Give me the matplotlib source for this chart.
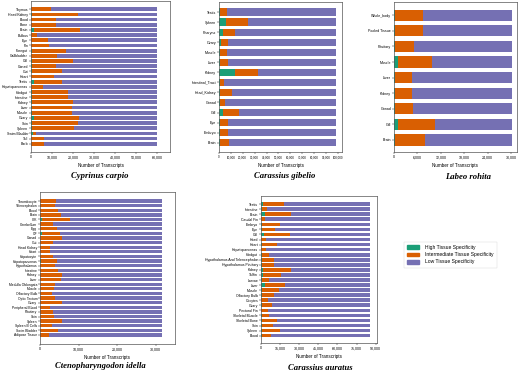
import matplotlib
matplotlib.use("Agg")
import matplotlib.pyplot as plt
from matplotlib.ticker import FuncFormatter, MultipleLocator
from matplotlib.patches import Patch

W, H = 520, 375
GREEN, ORANGE, PURPLE = "#1b9e77", "#d95f02", "#7570b3"

# ---------- Cyprinus carpio ----------
cc_tissues = ["Thymus", "Head Kidney", "Blood", "Bone", "Brain", "Bulbus", "Eye", "Fin",
              "Foregut", "Gallbladder", "Gill", "Gonad", "Gut", "Heart", "Testis",
              "Hepatopancreas", "Hindgut", "Intestine", "Kidney", "Liver", "Muscle",
              "Ovary", "Skin", "Spleen", "Swim Bladder", "Tail", "Barb"]
cc_high = [200, 300, 200, 200, 1500, 200, 200, 200, 300, 200, 300, 300, 300, 200, 1200,
           200, 300, 300, 300, 300, 300, 1500, 400, 300, 800, 200, 200]
cc_mid = [9200, 22000, 11600, 11600, 21900, 2800, 8100, 8600, 16300, 12100, 19900, 11600,
          14300, 10900, 13800, 5700, 17200, 17100, 19600, 19100, 19400, 21300, 22200,
          20400, 1500, 6200, 6000]
cc_total = 60000

# ---------- Carassius gibelio ----------
cg_tissues = ["Testis", "Spleen", "Pharynx", "Ovary", "Muscle", "Liver", "Kidney",
              "Intestinal_Tract", "Head_Kidney", "Gonad", "Gill", "Eye", "Embryo", "Brain"]
cg_high = [1000, 6200, 3600, 1400, 1000, 1200, 13200, 800, 1200, 800, 3600, 1000, 1200, 1000]
cg_mid = [5700, 18200, 10100, 6200, 5700, 6400, 19600, 3400, 9700, 4500, 13200, 6600, 6400, 7100]
cg_total = 98500

# ---------- Labeo rohita ----------
lr_tissues = ["Whole_body", "Pooled Tissue", "Pituitary", "Muscle", "Liver", "Kidney",
              "Gonad", "Gill", "Brain"]
lr_high = [250, 200, 150, 1100, 150, 150, 150, 900, 200]
lr_mid = [7050, 7200, 4850, 8700, 4350, 4550, 4650, 9700, 7800]
lr_total = 30300

# ---------- Ctenopharyngodon idella ----------
ci_tissues = ["Thrombocyte", "Telencephalon", "Blood", "Brain", "CIK", "Cerebellum", "Egg",
              "GF", "Gonad", "Gut", "Head Kidney", "Heart", "Hepatocyte", "Hepatopancreas",
              "Hypothalamus", "Intestine", "Kidney", "Liver", "Medulla Oblongata", "Muscle",
              "Olfactory Bulb", "Optic Tectum", "Ovary", "Peripheral Blood", "Pituitary",
              "Skin", "Spleen", "Spleen B Cells", "Swim Bladder", "Adipose Tissue"]
ci_high = [100, 100, 100, 100, 600, 100, 100, 400, 100, 100, 100, 100, 100, 150,
           100, 100, 100, 100, 100, 100, 100, 100, 100, 100, 100, 100, 100, 100, 100, 100]
ci_mid = [4000, 3900, 4500, 5300, 7200, 3300, 4400, 4900, 5600, 3300, 2500, 2500, 3300,
          4150, 3900, 4500, 5500, 5300, 3800, 3500, 3100, 3900, 5500, 2500, 3200, 3500,
          5700, 2900, 4500, 2300]
ci_total = 31600

# ---------- Carassius auratus ----------
ca_tissues = ["Testis", "Intestine", "Brain", "Caudal Fin", "Embryo", "Eye", "Gill", "Head",
              "Heart", "Hepatopancreas", "Hindgut", "Hypothalamus And Telencephalon",
              "Hypothalamus Pituitary", "Kidney", "Tailfin", "Larvae", "Liver", "Muscle",
              "Olfactory Bulb", "Oocytes", "Ovary", "Pectoral Fin", "Skeletal Muscle",
              "Skeletal Bone", "Skin", "Spleen", "Blood"]
ca_high = [1600, 500, 2900, 300, 400, 400, 2300, 300, 400, 300, 400, 500, 500, 1600, 1600,
           400, 2900, 500, 400, 300, 400, 300, 400, 600, 400, 500, 400]
ca_mid = [16400, 4500, 20900, 2600, 14200, 10800, 20200, 3400, 12100, 3400, 5900, 9700,
          9700, 22200, 14400, 5900, 16100, 13600, 9500, 5200, 8200, 5200, 5900, 12200, 9000,
          14600, 7700]
ca_total = 85300

plt.rcParams["font.family"] = ["Liberation Sans", "DejaVu Sans"]
fig = plt.figure(figsize=(W / 100, H / 100), dpi=100)
fmt = FuncFormatter(lambda v, p: f"{int(v):,}")


def panel(l, r, t, b, tissues, high, mid, total, xmax, step, pad_top, pad_bot,
          xfs=2.6, yfs=2.6):
    ax = fig.add_axes([l / W, 1 - b / H, (r - l) / W, (b - t) / H])
    y = list(range(len(tissues)))
    low = [total - h - m for h, m in zip(high, mid)]
    left_mid = list(high)
    left_low = [h + m for h, m in zip(high, mid)]
    ax.barh(y, high, color=GREEN, height=0.72)
    ax.barh(y, mid, left=left_mid, color=ORANGE, height=0.72)
    ax.barh(y, low, left=left_low, color=PURPLE, height=0.72)
    ax.set_yticks(y)
    ax.set_yticklabels(tissues, fontsize=yfs)
    ax.set_ylim(len(tissues) - 1 + pad_bot, -pad_top)
    ax.set_xlim(0, xmax)
    ax.xaxis.set_major_locator(MultipleLocator(step))
    ax.xaxis.set_major_formatter(fmt)
    ax.tick_params(axis="x", labelsize=xfs, length=1.2, width=0.3, pad=1)
    ax.tick_params(axis="y", length=1.2, width=0.3, pad=0.8)
    for s in ax.spines.values():
        s.set_linewidth(0.5)
        s.set_color("#555555")
    ax.set_xlabel("Number of Transcripts", fontsize=3.3, labelpad=2.5)
    return ax


panel(31, 170, 1, 152, cc_tissues, cc_high, cc_mid, cc_total, 66200, 10000, 1.6, 1.6,
      yfs=2.5)
panel(219, 342, 2, 152, cg_tissues, cg_high, cg_mid, cg_total, 103400, 10000, 1.0, 0.93,
      xfs=2.1)
panel(394, 517, 2, 152, lr_tissues, lr_high, lr_mid, lr_total, 31500, 6000, 0.85, 0.77)
panel(40, 175, 192, 344, ci_tissues, ci_high, ci_mid, ci_total, 35000, 10000, 1.95, 1.95,
      yfs=2.4)
panel(261, 377, 196, 343, ca_tissues, ca_high, ca_mid, ca_total, 91000, 15000, 1.6, 1.45,
      yfs=2.5)

title_kw = dict(fontsize=6.2, family="Liberation Serif", fontweight="bold",
                fontstyle="italic", ha="center", va="center")
fig.text(100 / W, 1 - 176 / H, "Cyprinus carpio", **title_kw)
fig.text(285 / W, 1 - 176 / H, "Carassius gibelio", **title_kw)
fig.text(468 / W, 1 - 177 / H, "Labeo rohita", **title_kw)
fig.text(100 / W, 1 - 366 / H, "Ctenopharyngodon idella", **title_kw)
fig.text(320 / W, 1 - 368 / H, "Carassius auratus", **title_kw)

handles = [Patch(color=GREEN, label="High Tissue Specificity"),
           Patch(color=ORANGE, label="Intermediate Tissue Specificity"),
           Patch(color=PURPLE, label="Low Tissue Specificity")]
leg = fig.legend(handles=handles, loc="upper left",
                 bbox_to_anchor=(401 / W, 1 - 239 / H), fontsize=3.6, frameon=True,
                 handlelength=2.4, handleheight=0.7, borderpad=0.6, labelspacing=0.5,
                 handletextpad=1.3, fancybox=False)
leg.get_frame().set_linewidth(0.3)
leg.get_frame().set_edgecolor("#cccccc")

fig.savefig("out.png", dpi=100)
